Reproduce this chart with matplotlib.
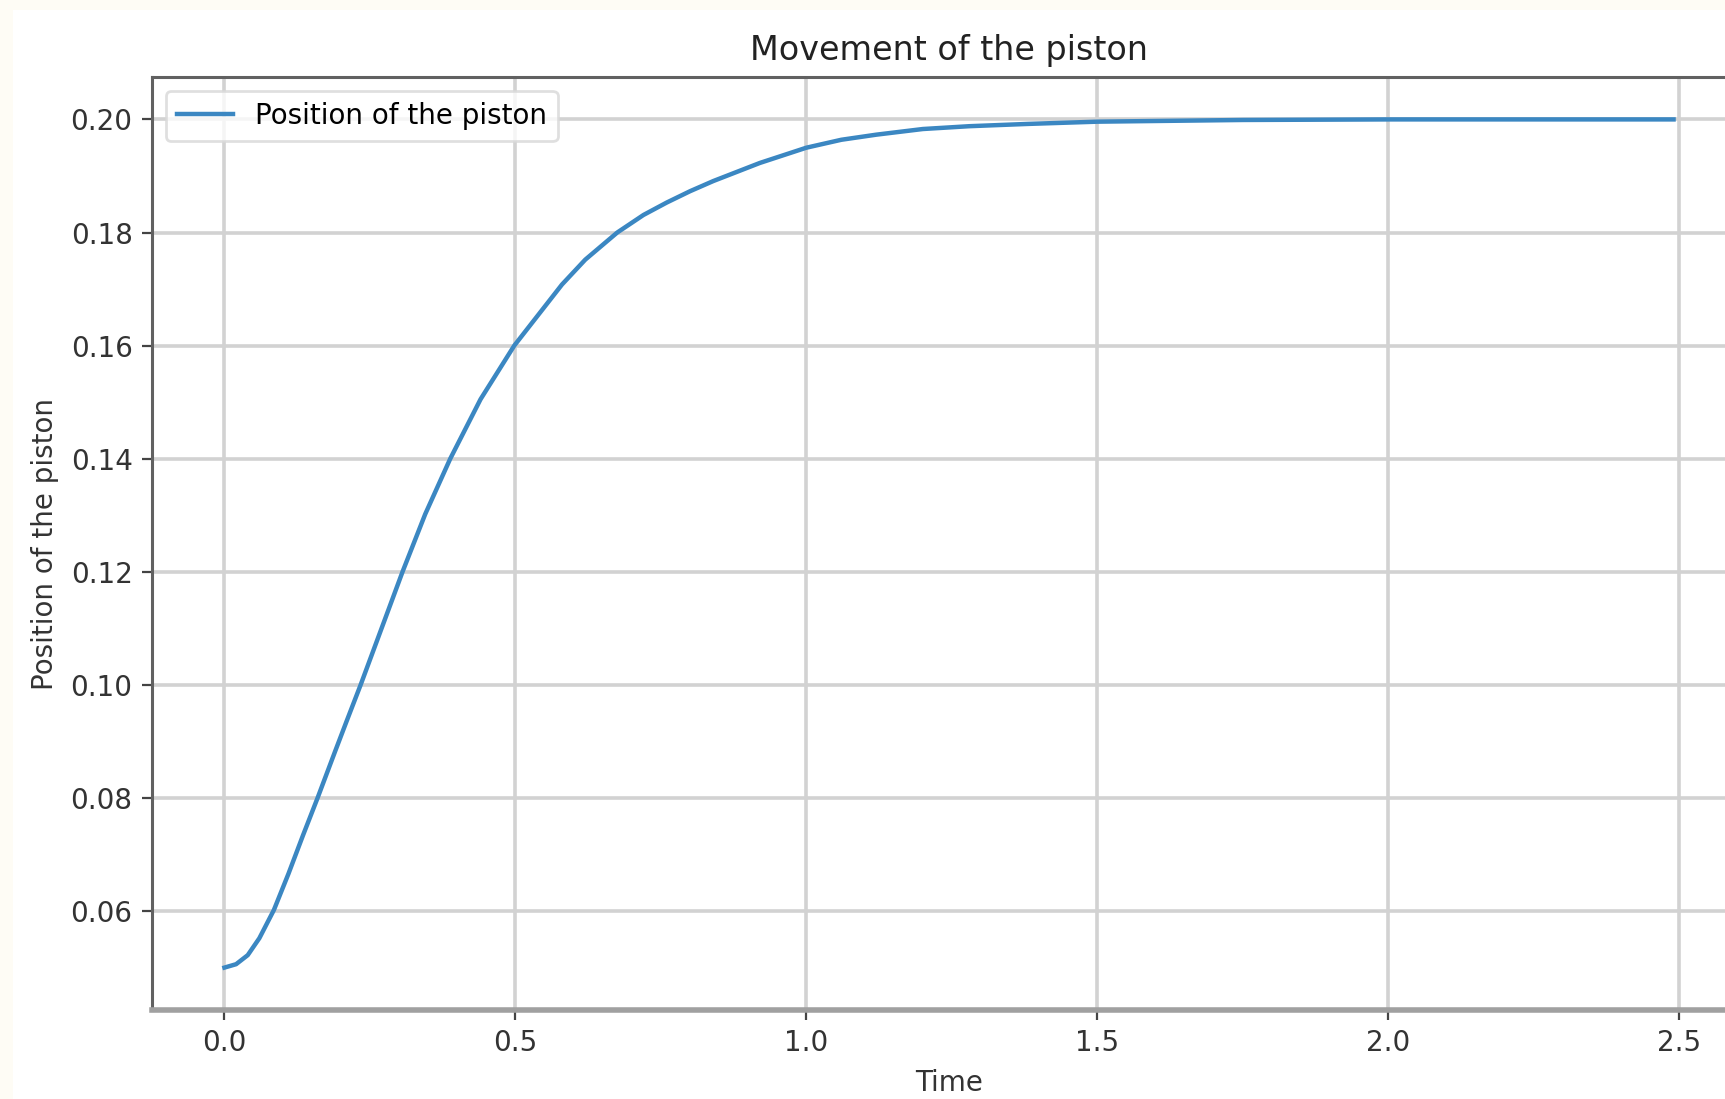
import numpy as np
import matplotlib as mpl
import matplotlib.pyplot as plt
from matplotlib.patches import Rectangle
mpl.use('Agg')

# values (time, position)
t = [0.0, 0.02, 0.04, 0.06, 0.085, 0.11, 0.135, 0.16, 0.19, 0.21,
     0.234, 0.27, 0.306, 0.345, 0.388, 0.44, 0.498, 0.58, 0.62, 0.675,
     0.72, 0.76, 0.80, 0.84, 0.92, 1.0, 1.06, 1.12, 1.2, 1.28,
     1.38, 1.5, 1.75, 2.0, 2.49]
pos = [0.050, 0.0506, 0.0522, 0.0552, 0.0602, 0.0666, 0.0734, 0.0800, 0.0882, 0.0936,
       0.1000, 0.1100, 0.1200, 0.1302, 0.1400, 0.1505, 0.1600, 0.1708, 0.1752, 0.1800,
       0.1831, 0.1853, 0.1873, 0.1891, 0.1923, 0.1950, 0.1964, 0.1973, 0.1983, 0.1988,
       0.1992, 0.1996, 0.1999, 0.2000, 0.2000]
label = 'Position of the piston'

W, H = 1725, 1099
fig = plt.figure(figsize=(W / 200, H / 200), dpi=200)
fig.patch.set_facecolor('#fefcf5')
# white page inside the cream screenshot border (top and left)
fig.patches.append(Rectangle((13 / W, 0), 1, (H - 10) / H, transform=fig.transFigure,
                             facecolor='white', edgecolor='none', zorder=-5))

# axes run past the right edge, like the cropped screenshot
ax = fig.add_axes([152 / W, (H - 1010) / H, 1594 / W, 933 / H])
ax.plot(t, pos, color='#3b87c2', lw=1.6, label=label)

ax.set_title('Movement of the piston', fontsize=12, color='#222222')
ax.set_xlabel('Time', color='#333333')
ax.set_ylabel('Position of the piston', color='#333333')
ax.set_xticks([0.0, 0.5, 1.0, 1.5, 2.0, 2.5])
ax.set_yticks([0.06, 0.08, 0.10, 0.12, 0.14, 0.16, 0.18, 0.20])
ax.grid(True, color='#d2d2d2', lw=1.3)
ax.tick_params(colors='#444444', labelcolor='#333333')

for s in ['top', 'left', 'right']:
    ax.spines[s].set_color('#616161')
    ax.spines[s].set_linewidth(1.1)
ax.spines['bottom'].set_color('#a0a0a0')
ax.spines['bottom'].set_linewidth(2.0)

ax.legend(loc='upper left', edgecolor='#d8d8d8')

plt.savefig('out.png', dpi=200, facecolor=fig.get_facecolor())
